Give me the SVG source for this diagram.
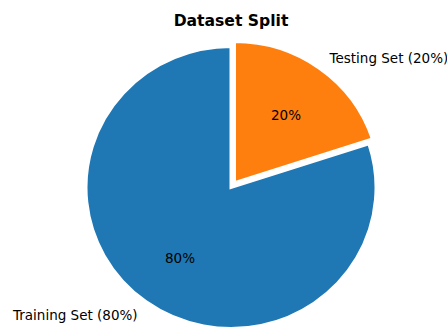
<svg xmlns="http://www.w3.org/2000/svg" width="447" height="329" viewBox="0 0 447 329">
<style>
.w{stroke:#ffffff;stroke-width:3;stroke-linejoin:miter}
.t{font-family:"DejaVu Sans",sans-serif;font-size:13.5px;fill:#000}
.ttl{font-family:"DejaVu Sans",sans-serif;font-size:15.6px;font-weight:bold;fill:#000}
</style>
<rect width="447" height="329" fill="#ffffff"/>
<text class="ttl" x="231" y="26" text-anchor="middle">Dataset Split</text>
<g id="training">
<path class="w" fill="#1f77b4" d="M231,187.5 L231,46.5 A145,141 0 1 0 368.9,143.9 Z"/>
<text class="t" x="180" y="263" text-anchor="middle">80%</text>
<text class="t" x="13" y="320">Training Set (80%)</text>
</g>
<g id="testing">
<path class="w" fill="#ff7f0e" d="M234.5,182.6 L234.5,41.6 A145,141 0 0 1 372.4,139 Z"/>
<text class="t" x="286" y="120" text-anchor="middle">20%</text>
<text class="t" x="329.5" y="63">Testing Set (20%)</text>
</g>
</svg>
